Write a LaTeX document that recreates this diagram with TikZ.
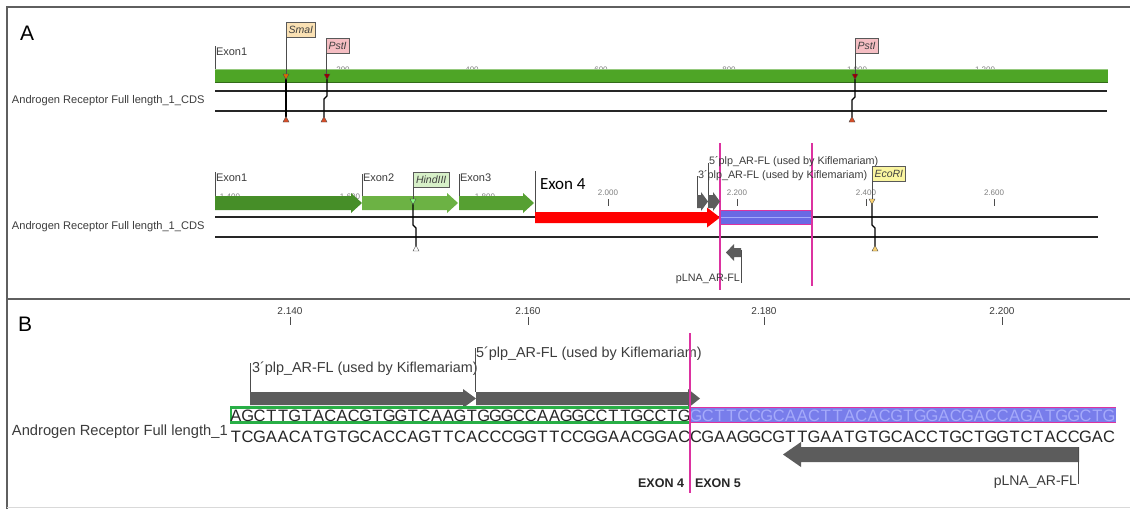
\documentclass[tikz,border=0pt]{standalone}
\usepackage{fontspec}
\setmainfont{Liberation Sans}
\newfontfamily\calibfont{Carlito}
\usetikzlibrary{calc}
\definecolor{frameGray}{RGB}{95,95,95}
\definecolor{barGreen}{RGB}{78,165,38}
\definecolor{exA}{RGB}{70,142,40}
\definecolor{exB}{RGB}{108,178,68}
\definecolor{exC}{RGB}{86,160,50}
\definecolor{mag}{RGB}{220,50,160}
\definecolor{bandBlue}{RGB}{105,105,228}
\definecolor{primGray}{RGB}{92,92,92}
\definecolor{seqGreen}{RGB}{40,175,70}
\definecolor{seqBlue}{RGB}{120,125,235}
\definecolor{seqLav}{RGB}{165,170,250}
\definecolor{smaFill}{RGB}{250,225,180}
\definecolor{pstFill}{RGB}{245,190,195}
\definecolor{hindFill}{RGB}{215,240,200}
\definecolor{ecoFill}{RGB}{250,245,160}
\definecolor{labGray}{RGB}{60,60,60}
\definecolor{redEx}{RGB}{255,0,0}
\newcommand\RArrow[7]{\fill[#1] (#2,#4) -- ({#3-#6},#4) -- ({#3-#6},{#4-#7}) -- (#3,{(#4+#5)/2}) -- ({#3-#6},{#5+#7}) -- ({#3-#6},#5) -- (#2,#5) -- cycle;}
\newcommand\LArrow[7]{\fill[#1] (#3,#4) -- ({#2+#6},#4) -- ({#2+#6},{#4-#7}) -- (#2,{(#4+#5)/2}) -- ({#2+#6},{#5+#7}) -- ({#2+#6},#5) -- (#3,#5) -- cycle;}
\newcommand\TriDn[3]{\filldraw[fill=#1,draw=black!70,line width=0.4] ({#2-3},{#3-3}) -- ({#2+3},{#3-3}) -- (#2,{#3+2.5}) -- cycle;}
\newcommand\TriUp[3]{\filldraw[fill=#1,draw=black!70,line width=0.4] ({#2-3},{#3+3}) -- ({#2+3},{#3+3}) -- (#2,{#3-2.5}) -- cycle;}
\tikzset{
  frame/.style={draw=frameGray, line width=1.3},
  tracklbl/.style={anchor=west, text=labGray, font=\fontsize{11.1}{12}\selectfont},
  rulerA/.style={text=gray, font=\fontsize{8}{9}\selectfont},
  rulerB/.style={text=labGray, font=\fontsize{10}{11}\selectfont},
  exlbl/.style={anchor=south west, text=labGray, font=\fontsize{11}{12}\selectfont},
  enz/.style={draw=gray!70!black, line width=0.6, anchor=south west, inner xsep=2.5pt, inner ysep=0pt, minimum height=15, text=black!75, font=\fontsize{10.5}{11}\selectfont\itshape},
  chrom/.style={draw=black!85, line width=1.6},
  cutln/.style={draw=black, line width=1.3},
  tk/.style={draw=black!70, line width=0.6},
  primA/.style={anchor=west, text=labGray, font=\fontsize{10.8}{12}\selectfont},
  primB/.style={anchor=west, text=labGray, font=\fontsize{14.4}{16}\selectfont},
  seqc/.style={text=black!85, font=\fontsize{16.5}{16}\selectfont},
  exonB/.style={text=black!85, font=\fontsize{12.5}{13}\selectfont\bfseries},
  magln/.style={draw=mag, line width=1.6},
}
\begin{document}
\begin{tikzpicture}[x=1pt,y=-1pt,every node/.style={inner sep=0pt,outer sep=0pt}]
\useasboundingbox (0,0) rectangle (1130,509);
\fill[white] (0,0) rectangle (1130,509);
% frame
\draw[frame] (7,509) -- (7,7) -- (1130,7);
\draw[frame] (7,299) -- (1130,299);
\draw[draw=gray!30, line width=1] (7,507) -- (1130,507);

% ================= Panel A =================
\node[anchor=south west, font=\fontsize{21}{21}\selectfont] (labA) at (20,40) {A};

% --- top track (ruler numbers half hidden behind the bar)
\foreach \x/\t [count=\k] in {343/200,472/400,601/600,729/800,857/1.000,985/1.200}
  \node[rulerA] (ra\k) at (\x,70) {\t};
\fill[barGreen] (215,69) rectangle (1108,82);
\draw[barGreen!60!white, line width=0.6] (215,69.3) -- (1108,69.3);
\draw[barGreen!65!black, line width=0.6] (215,82) -- (1108,82);
\node[exlbl] (exT1) at (216,56) {Exon1};
\draw[tk] (215,46) -- (215,69);
\node[tracklbl] (trkA1) at (12,101) {Androgen Receptor Full length\_1\_CDS};
\draw[chrom] (215,91) -- (1107,91);
\draw[chrom] (215,111) -- (1107,111);

\node[enz, fill=smaFill] (sma) at (286,37) {SmaI};
\draw[tk] (sma.south west) -- (286,76);
\draw[cutln] (286,78) -- (286,117);
\TriDn{orange!85!black}{286}{77}
\TriUp{brown!60!red}{286}{119}

\node[enz, fill=pstFill] (pstA) at (326,53) {PstI};
\draw[tk] (pstA.south west) -- (326,76);
\draw[cutln] (327,78) -- (327,96) -- (324,99) -- (324,117);
\TriDn{red!60!black}{327}{77}
\TriUp{brown!60!red}{324}{119}

\node[enz, fill=pstFill] (pstB) at (855,53) {PstI};
\draw[tk] (pstB.south west) -- (855,76);
\draw[cutln] (855,78) -- (855,97) -- (852,100) -- (852,117);
\TriDn{red!60!black}{855}{77}
\TriUp{brown!60!red}{852}{119}

% --- lower track
\foreach \x/\t [count=\k] in {230/1.400,350/1.600,485/1.800}
  \node[rulerA] (rb\k) at (\x,197) {\t};
\foreach \x/\t [count=\k] in {608/2.000,737/2.200,866/2.400,994/2.600}{
  \node[rulerA] (rc\k) at (\x,193) {\t};
  \draw[tk] (\x,199) -- (\x,206);
}
\node[tracklbl] (trkA2) at (12,227) {Androgen Receptor Full length\_1\_CDS};
\draw[chrom] (215,217) -- (1098,217);
\draw[chrom] (215,237) -- (1098,237);

\RArrow{exA}{215}{362}{196}{210}{11}{3}
\RArrow{exB}{362}{458}{196}{210}{11}{3}
\RArrow{exC}{459}{534}{196}{210}{11}{3}
\node[exlbl] (exL1) at (216,182) {Exon1};
\node[exlbl] (exL2) at (363,182) {Exon2};
\node[exlbl] (exL3) at (460,182) {Exon3};
\draw[tk] (215,172) -- (215,196);
\draw[tk] (362,174) -- (362,196);
\draw[tk] (459,174) -- (459,196);

\node[enz, fill=hindFill, inner xsep=3pt] (hind) at (413,187) {HindIII};
\draw[tk] (hind.south west) -- (413,201);
\draw[cutln] (413,203) -- (413,225) -- (416,228) -- (416,246);
\TriDn{hindFill!60!green}{413}{202}
\TriUp{white}{416}{248}

% Exon 4 red arrow
\RArrow{redEx}{535}{720}{212}{223}{13}{4.5}
\draw[tk] (535,171) -- (535,212);
\node[anchor=west, font=\calibfont\fontsize{17}{18}\selectfont] (ex4) at (540,184) {Exon 4};

% blue band
\fill[bandBlue] (720,210) rectangle (812,225);
\draw[mag, line width=1.3] (720,210.5) -- (812,210.5);
\draw[mag, line width=1.3] (720,224.5) -- (812,224.5);
\draw[seqLav, line width=1] (720,217.5) -- (812,217.5);
\draw[magln] (720,143) -- (720,290);
\draw[magln] (812,143) -- (812,286);

% primers in A
\RArrow{primGray}{697}{708}{195}{208}{7}{3}
\RArrow{primGray}{708}{720}{195}{208}{7}{3}
\draw[tk] (697,176) -- (697,195);
\draw[tk] (708,163) -- (708,195);
\node[primA] (p5A) at (709,162) {5´plp\_AR-FL (used by Kiflemariam)};
\node[primA] (p3A) at (698,176) {3´plp\_AR-FL (used by Kiflemariam)};
\LArrow{primGray}{726}{741}{248}{257}{8}{4}
\draw[tk] (741,250) -- (741,283);
\node[primA, anchor=east] (plA) at (740,279) {pLNA\_AR-FL};

\node[enz, fill=ecoFill] (eco) at (872,181) {EcoRI};
\draw[tk] (eco.south west) -- (872,201);
\draw[cutln] (872,203) -- (872,225) -- (875,228) -- (875,246);
\TriDn{ecoFill!70!orange}{872}{202}
\TriUp{ecoFill!70!orange}{875}{248}

% ================= Panel B =================
\node[anchor=south west, font=\fontsize{21}{21}\selectfont] (labB) at (18,331) {B};
\foreach \x/\t [count=\k] in {290/2.140,528/2.160,764/2.180,1002/2.200}{
  \node[rulerB] (rd\k) at (\x,311) {\t};
  \draw[tk] (\x,317) -- (\x,325);
}
\node[primB] (p3B) at (252,369) {3´plp\_AR-FL (used by Kiflemariam)};
\node[primB] (p5B) at (476,354) {5´plp\_AR-FL (used by Kiflemariam)};
\draw[tk] (250,363) -- (250,392);
\draw[tk] (475,348) -- (475,392);
\RArrow{primGray}{250}{476}{392}{405}{13}{3}
\RArrow{primGray}{476}{700}{392}{405}{12}{3}

\fill[seqBlue] (690,407) rectangle (1116,423);
\draw[mag, line width=1.3] (690,407.5) -- (1116,407.5);
\draw[mag, line width=1.3] (690,422.5) -- (1116,422.5);
\draw[seqGreen, line width=2.5] (231,407.5) rectangle (690,422.5);

\node[anchor=west, text=labGray, font=\fontsize{14.7}{16}\selectfont] (trkB) at (12,432) {Androgen Receptor Full length\_1};

\foreach \c [count=\i from 0] in {A,G,C,T,T,G,T,A,C,A,C,G,T,G,G,T,C,A,A,G,T,G,G,G,C,C,A,A,G,G,C,C,T,T,G,C,C,T,G}
  \node[seqc] (ta\i) at ({230+(\i+0.5)*11.8},415.5) {\c};
\foreach \c [count=\i from 39] in {G,C,T,T,C,C,G,C,A,A,C,T,T,A,C,A,C,G,T,G,G,A,C,G,A,C,C,A,G,A,T,G,G,C,T,G}
  \node[seqc, text=seqLav] (tb\i) at ({230+(\i+0.5)*11.8},415.5) {\c};
\foreach \c [count=\i from 0] in {T,C,G,A,A,C,A,T,G,T,G,C,A,C,C,A,G,T,T,C,A,C,C,C,G,G,T,T,C,C,G,G,A,A,C,G,G,A,C,C,G,A,A,G,G,C,G,T,T,G,A,A,T,G,T,G,C,A,C,C,T,G,C,T,G,G,T,C,T,A,C,C,G,A,C}
  \node[seqc] (bs\i) at ({230+(\i+0.5)*11.8},437) {\c};

\draw[magln] (690,333) -- (690,493);
\node[exonB, anchor=east] (e4) at (684,483) {EXON 4};
\node[exonB, anchor=west] (e5) at (695,483) {EXON 5};

\LArrow{primGray}{783}{1079}{447}{462}{18}{5}
\draw[tk] (1078,447) -- (1078,484);
\node[anchor=east, text=labGray, font=\fontsize{14}{15}\selectfont] (plB) at (1077,482) {pLNA\_AR-FL};
\end{tikzpicture}
\end{document}
